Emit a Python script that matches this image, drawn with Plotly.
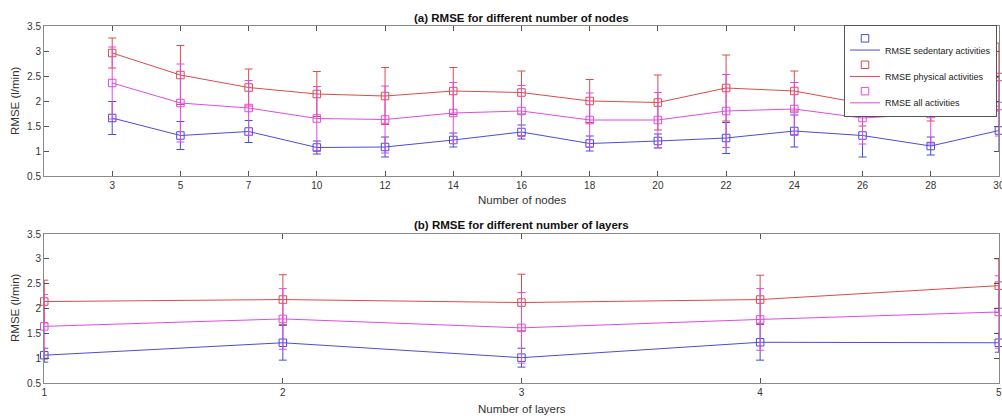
import plotly.graph_objects as go

# ---- data ----
nodes = [3, 5, 7, 10, 12, 14, 16, 18, 20, 22, 24, 26, 28, 30]
sed_nodes = [1.66, 1.31, 1.39, 1.07, 1.08, 1.22, 1.38, 1.15, 1.20, 1.26, 1.40, 1.31, 1.10, 1.41]
sed_nodes_err = [0.33, 0.28, 0.22, 0.13, 0.20, 0.14, 0.14, 0.15, 0.14, 0.31, 0.32, 0.43, 0.18, 0.42]
phys_nodes = [2.96, 2.52, 2.27, 2.14, 2.10, 2.20, 2.17, 2.00, 1.97, 2.26, 2.20, 1.95, 2.05, 2.48]
phys_nodes_err = [0.30, 0.59, 0.37, 0.45, 0.57, 0.47, 0.43, 0.43, 0.55, 0.66, 0.40, 0.45, 0.45, 0.68]
all_nodes = [2.36, 1.96, 1.86, 1.65, 1.63, 1.76, 1.80, 1.62, 1.62, 1.80, 1.84, 1.66, 1.74, 1.90]
all_nodes_err = [0.72, 0.78, 0.55, 0.64, 0.67, 0.61, 0.51, 0.54, 0.55, 0.73, 0.53, 0.52, 0.60, 0.60]

layers = [1, 2, 3, 4, 5]
sed_layers = [1.06, 1.31, 1.01, 1.32, 1.31]
sed_layers_err = [0.14, 0.35, 0.19, 0.36, 0.19]
phys_layers = [2.14, 2.18, 2.12, 2.18, 2.46]
phys_layers_err = [0.43, 0.50, 0.57, 0.49, 0.54]
all_layers = [1.64, 1.79, 1.61, 1.78, 1.93]
all_layers_err = [0.64, 0.61, 0.71, 0.62, 0.73]

names = ["RMSE sedentary activities", "RMSE physical activities", "RMSE all activities"]
colors = ["#4b4bdc", "#dc4b4b", "#e14be1"]
y_ticks = [0.5, 1, 1.5, 2, 2.5, 3, 3.5]
y_ticklabels = ["0.5", "1", "1.5", "2", "2.5", "3", "3.5"]

W, H = 1002, 416
FONT = "Liberation Sans, Arial, Helvetica, sans-serif"
EPS = 1e-3


def px(p):
    return p / W


def py(p):
    return 1 - p / H


fig = go.Figure()
node_pos = list(range(1, len(nodes) + 1))


def add_series(x, y, err, color, name, xa, ya, show):
    fig.add_trace(go.Scatter(
        x=x, y=y, mode="lines", line=dict(color=color, width=1),
        name="<br>" + name, showlegend=show, legend="legend",
        xaxis=xa, yaxis=ya, cliponaxis=False, hoverinfo="skip"))
    fig.add_trace(go.Scatter(
        x=x, y=y, mode="markers",
        marker=dict(symbol="square-open", size=7.5, color=color, line=dict(width=1, color=color)),
        error_y=dict(type="data", array=err, visible=True, color=color, thickness=1, width=4),
        name="&nbsp;<br>&nbsp;", showlegend=show, legend="legend2",
        xaxis=xa, yaxis=ya, cliponaxis=False))


top_data = [(sed_nodes, sed_nodes_err), (phys_nodes, phys_nodes_err), (all_nodes, all_nodes_err)]
bot_data = [(sed_layers, sed_layers_err), (phys_layers, phys_layers_err), (all_layers, all_layers_err)]
for i in range(3):
    add_series(node_pos, top_data[i][0], top_data[i][1], colors[i], names[i], "x", "y", True)
for i in range(3):
    add_series(layers, bot_data[i][0], bot_data[i][1], colors[i], names[i], "x2", "y2", False)

axis_common = dict(
    showline=True, linecolor="#8a8a8a", linewidth=1, mirror="ticks",
    ticks="inside", ticklen=5, tickcolor="#555555", tickwidth=1,
    showgrid=False, zeroline=False, automargin=False,
    tickfont=dict(family=FONT, size=10, color="#333333"),
)
xl, xr = px(44), px(999)
leg_common = dict(x=px(844), y=py(25), xanchor="left", yanchor="top",
                  borderwidth=1, valign="bottom",
                  font=dict(family=FONT, size=9, color="#222222"))
fig.update_layout(
    width=W, height=H,
    margin=dict(l=0, r=0, t=0, b=0, autoexpand=False),
    paper_bgcolor="white", plot_bgcolor="white",
    font=dict(family=FONT, size=10, color="#333333"),
    xaxis=dict(domain=[xl, xr], range=[0, len(nodes) + EPS], tickvals=node_pos,
               ticktext=[str(n) for n in nodes], anchor="y", ticklabeloverflow="allow",
               **axis_common),
    yaxis=dict(domain=[py(176), py(26)], range=[0.5, 3.5], tickvals=y_ticks,
               ticktext=y_ticklabels, anchor="x", **axis_common),
    xaxis2=dict(domain=[xl, xr], range=[1 - EPS, 5 + EPS], tickvals=layers,
                ticktext=[str(v) for v in layers], anchor="y2", ticklabeloverflow="allow",
                **axis_common),
    yaxis2=dict(domain=[py(383), py(234)], range=[0.5, 3.5], tickvals=y_ticks,
                ticktext=y_ticklabels, anchor="x2", **axis_common),
    legend=dict(bgcolor="white", bordercolor="#555555", **leg_common),
    legend2=dict(bgcolor="rgba(0,0,0,0)", bordercolor="rgba(0,0,0,0)",
                 **{**leg_common, "valign": "top"}),
    showlegend=True,
)

ann = [
    dict(text="<b>(a) RMSE for different number of nodes</b>", x=(xl + xr) / 2, y=py(18),
         font=dict(size=11.5, color="#111111")),
    dict(text="<b>(b) RMSE for different number of layers</b>", x=(xl + xr) / 2, y=py(225),
         font=dict(size=11.5, color="#111111")),
    dict(text="Number of nodes", x=(xl + xr) / 2, y=py(200), font=dict(size=11.5, color="#333333")),
    dict(text="Number of layers", x=(xl + xr) / 2, y=py(409), font=dict(size=11.5, color="#333333")),
    dict(text="RMSE (l/min)", x=px(15), y=py(101), textangle=-90, font=dict(size=11.5, color="#333333")),
    dict(text="RMSE (l/min)", x=px(15), y=py(308), textangle=-90, font=dict(size=11.5, color="#333333")),
]
for a in ann:
    fig.add_annotation(xref="paper", yref="paper", showarrow=False,
                       xanchor="center", yanchor="middle", **a)

fig.write_html(
    "out.html",
    config={"displayModeBar": False},
    post_script="document.body.style.margin='0px';document.body.style.overflow='hidden';",
)
